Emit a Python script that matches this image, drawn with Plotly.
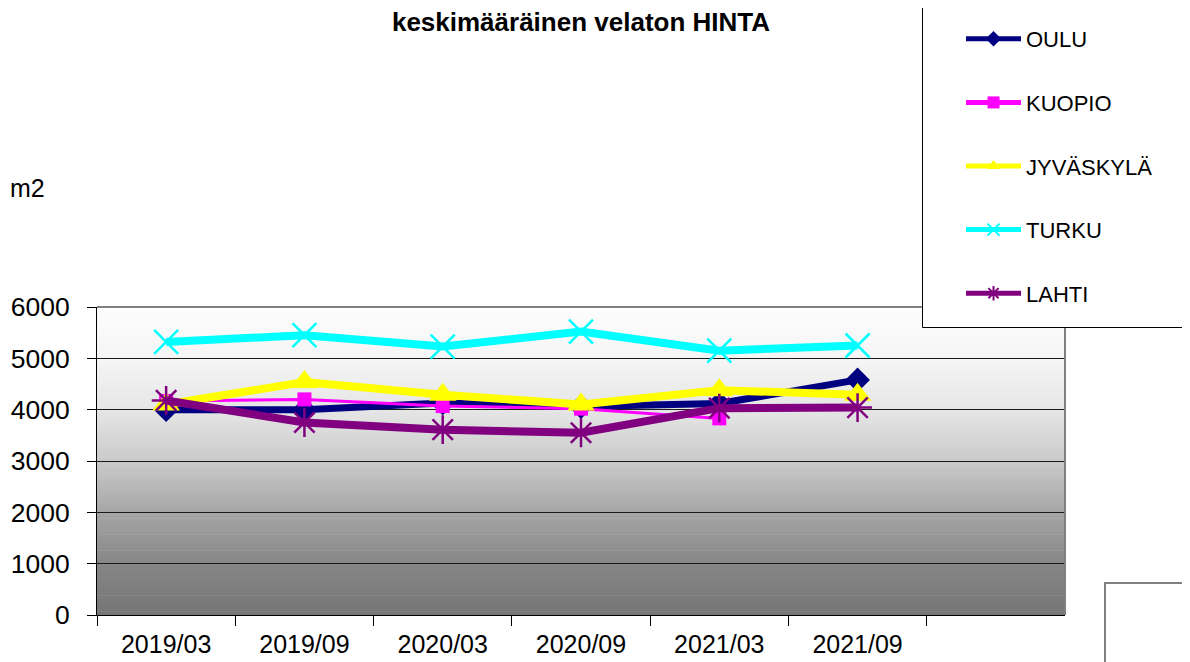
import plotly.graph_objects as go

categories = ["2019/03", "2019/09", "2020/03", "2020/09", "2021/03", "2021/09"]
oulu = [4000, 4000, 4130, 4060, 4120, 4580]
kuopio = [4170, 4200, 4070, 4020, 3830, None]
jyvaskyla = [4100, 4540, 4290, 4100, 4380, 4290]
turku = [5320, 5450, 5230, 5520, 5150, 5250]
lahti = [4180, 3750, 3610, 3550, 4030, 4040]
y_ticks = [0, 1000, 2000, 3000, 4000, 5000, 6000]

FONT = "Arial, Liberation Sans, sans-serif"

series = [
    ("OULU", oulu, "#000080", 7, "diamond", 19, 0),
    ("KUOPIO", kuopio, "#FF00FF", 3, "square", 14, 0),
    ("JYVÄSKYLÄ", jyvaskyla, "#FFFF00", 8, "triangle-up", 24, 0),
    ("TURKU", turku, "#00FFFF", 8, "x-thin", 24, 2.5),
    ("LAHTI", lahti, "#800080", 8, "asterisk", 24, 2.5),
]

# page offset of the figure (default body margin)
OFF = 8
W, H = 1190 - OFF, 662 - OFF
L, R, T, B = 97 - OFF, 1065 - OFF, 307 - OFF, 615 - OFF
pw, ph = R - L, B - T


def px(x):
    return (x - OFF - L) / pw


def py(y):
    return (B - (y - OFF)) / ph


fig = go.Figure()
for i, (name, vals, col, lw, sym, ms, mlw) in enumerate(series):
    marker = dict(symbol=sym, size=ms, color=col)
    if mlw:
        marker["line"] = dict(color=col, width=mlw)
    fig.add_trace(go.Scatter(
        x=categories, y=vals, name=name, mode="lines+markers",
        line=dict(color=col, width=lw), marker=marker,
        legendgroup=f"g{i}", connectgaps=False,
    ))

# background gradient (grey levels sampled from top to bottom)
stops = [(0.0, 253), (1 / 6, 245), (2 / 6, 230), (3 / 6, 202), (4 / 6, 166),
         (5 / 6, 134), (1.0, 118)]


def grey(t):
    for (t0, g0), (t1, g1) in zip(stops[:-1], stops[1:]):
        if t <= t1:
            return g0 + (g1 - g0) * (t - t0) / (t1 - t0)
    return stops[-1][1]


shapes = []
N = 96
for k in range(N):
    t = 1 - (k + 0.5) / N
    v = int(round(grey(t)))
    shapes.append(dict(type="rect", xref="x domain", yref="y domain",
                       x0=0, x1=1, y0=k / N, y1=(k + 1) / N + 0.002,
                       fillcolor=f"rgb({v},{v},{v})", line=dict(width=0), layer="below"))
shapes.append(dict(type="path", xref="paper", yref="paper",
                   path="M 0,1 L 1,1 L 1,0", line=dict(color="#808080", width=2),
                   layer="above"))
# legend frame
shapes.append(dict(type="rect", xref="paper", yref="paper",
                   x0=px(922.5), x1=px(1210), y0=py(327.5), y1=py(2.5),
                   fillcolor="white", line=dict(color="black", width=1), layer="above"))
# partial box at bottom right
shapes.append(dict(type="rect", xref="paper", yref="paper",
                   x0=px(1105), x1=px(1210), y0=py(700), y1=py(583),
                   fillcolor="white", line=dict(color="#808080", width=2),
                   layer="above"))

fig.update_layout(
    width=W, height=H,
    margin=dict(l=L, r=W - R, t=T, b=H - B, autoexpand=False),
    paper_bgcolor="white", plot_bgcolor="rgba(0,0,0,0)",
    font=dict(family=FONT, color="black"),
    title=dict(text="<b>keskimääräinen velaton HINTA</b>", x=px(581), xref="paper",
               y=1 - 5 / H, yref="container", yanchor="top", xanchor="center",
               pad=dict(t=0, b=0, l=0, r=0),
               font=dict(size=26, family=FONT, color="black")),
    showlegend=True,
    legend=dict(x=px(961), y=py(18), xanchor="left", yanchor="top",
                xref="paper", yref="paper",
                bgcolor="rgba(0,0,0,0)", borderwidth=0,
                font=dict(size=22, family=FONT, color="black"),
                tracegroupgap=32, itemwidth=55, itemsizing="constant"),
    shapes=shapes,
    annotations=[dict(text="m2", xref="paper", yref="paper",
                      x=px(OFF), y=py(188), xanchor="left", yanchor="middle",
                      showarrow=False, font=dict(size=25, family=FONT, color="black"))],
)

fig.update_xaxes(type="category", categoryorder="array", categoryarray=categories,
                 range=[-0.5, 6.5], tickson="boundaries", ticks="outside", ticklen=10,
                 tickcolor="black", showgrid=False, showline=True, linecolor="black",
                 linewidth=1, tickfont=dict(size=25, family=FONT, color="black"),
                 ticklabelstandoff=7, zeroline=False)
fig.update_yaxes(range=[0, 6000], tickvals=y_ticks, ticks="outside", ticklen=9,
                 tickcolor="black", showgrid=True, gridcolor="#1a1a1a", gridwidth=1,
                 showline=True, linecolor="black", linewidth=1, zeroline=False,
                 ticklabelstandoff=12,
                 tickfont=dict(size=26.5, family=FONT, color="black"))

fig.write_html("out.html")
